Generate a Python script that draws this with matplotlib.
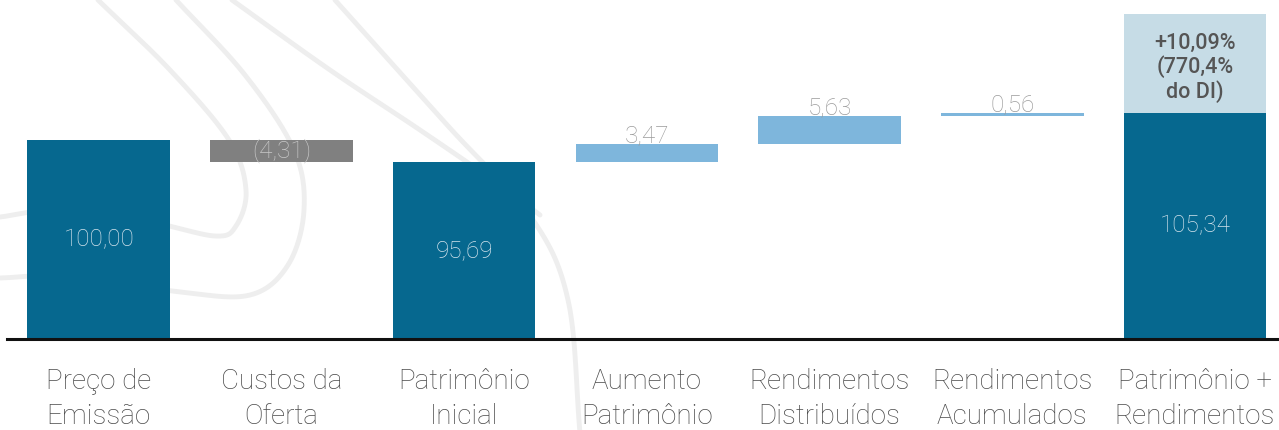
import numpy as np
import matplotlib
matplotlib.use("Agg")
import matplotlib.pyplot as plt
from matplotlib.lines import Line2D
from matplotlib import font_manager

# ---- data ----
categories = ["Preço de\nEmissão", "Custos da\nOferta", "Patrimônio\nInicial",
              "Aumento\nPatrimônio", "Rendimentos\nDistribuídos",
              "Rendimentos\nAcumulados", "Patrimônio +\nRendimentos"]
kinds = ["total", "delta", "total", "delta", "delta", "delta", "total"]
values = [100.00, -4.31, 95.69, 3.47, 5.63, 0.56, 105.34]
value_labels = ["100,00", "(4,31)", "95,69", "3,47", "5,63", "0,56", "105,34"]
return_note = "+10,09%\n(770,4%\ndo DI)"

# ---- style ----
DARK = "#06688F"
GREY_BAR = "#808080"
LIGHT = "#7EB6DC"
BOX = "#C6DCE6"
BAR_W = 0.78
NOTE_BOX_H = 19.5
W_PX, H_PX = 1279, 430

avail = {f.name for f in font_manager.fontManager.ttflist}
family = "Roboto" if "Roboto" in avail else "DejaVu Sans"

fig = plt.figure(figsize=(W_PX / 100, H_PX / 100), dpi=100)
ax = fig.add_axes([0.0052, 0.2116, 0.9948, 0.7884])
ax.set_xlim(-0.504, 6.46)
ax.set_ylim(60.6, 127.7)


def smooth(points, n=30):
    """Catmull-Rom curve through pixel points (origin at top-left)."""
    p = np.array(points, dtype=float)
    p = np.vstack([2 * p[0] - p[1], p, 2 * p[-1] - p[-2]])
    out = []
    for i in range(1, len(p) - 2):
        p0, p1, p2, p3 = p[i - 1], p[i], p[i + 1], p[i + 2]
        t = np.linspace(0, 1, n)[:, None]
        out.append(0.5 * ((2 * p1) + (-p0 + p2) * t
                          + (2 * p0 - 5 * p1 + 4 * p2 - p3) * t ** 2
                          + (-p0 + 3 * p1 - 3 * p2 + p3) * t ** 3))
    c = np.vstack(out)
    return c[:, 0] / W_PX, 1 - c[:, 1] / H_PX


# faint watermark swirl behind the chart
swirl = [
    [(98, 0), (170, 70), (229, 140), (246, 190), (236, 226), (215, 236),
     (150, 222), (60, 210), (0, 217)],
    [(176, 0), (245, 75), (294, 150), (304, 210), (288, 265), (250, 295),
     (180, 292), (70, 276), (0, 278)],
    [(232, 0), (330, 70), (420, 130), (500, 185), (540, 215)],
    [(335, 0), (449, 127), (531, 217), (568, 300), (580, 433)],
]
for pts in swirl:
    xs, ys = smooth(pts)
    ax.add_line(Line2D(xs, ys, transform=fig.transFigure, color="#EEEEEE",
                       lw=3.5, zorder=0, clip_on=False,
                       solid_capstyle="round"))

running = 0.0
for i, (k, v, lab) in enumerate(zip(kinds, values, value_labels)):
    if k == "total":
        base = ax.get_ylim()[0]
        running = v
        ax.bar(i, v - base, bottom=base, width=BAR_W, color=DARK, zorder=2)
        ax.text(i, (base + v) / 2, lab, ha="center", va="center",
                fontsize=17.5, color="#D3E3EC", family=family,
                fontweight="light", zorder=3)
    else:
        start = running
        running = running + v
        lo, hi = min(start, running), max(start, running)
        color = GREY_BAR if v < 0 else LIGHT
        ax.bar(i, hi - lo, bottom=lo, width=BAR_W, color=color, zorder=2)
        if v < 0:
            ax.text(i, (lo + hi) / 2, lab, ha="center", va="center",
                    fontsize=17.5, color="#C9C9C9", family=family,
                    fontweight="light", zorder=3)
        else:
            ax.text(i, hi + 0.35, lab, ha="center", va="baseline",
                    fontsize=17.5, color="#9B9B9B", family=family,
                    fontweight="light", zorder=3)

# return note stacked above the final total
last = len(values) - 1
ax.bar(last, NOTE_BOX_H, bottom=values[last], width=BAR_W, color=BOX, zorder=2)
ax.text(last, values[last] + NOTE_BOX_H / 2 - 0.8, return_note, ha="center",
        va="center", fontsize=15.5, color="#555555", family=family,
        fontweight="medium", linespacing=1.1, zorder=3)

ax.set_xticks(range(len(categories)))
ax.set_xticklabels(categories, fontsize=20, color="#4A4A4A", family=family,
                   fontweight="light", linespacing=1.38)
ax.tick_params(axis="x", length=0, pad=21)
ax.set_yticks([])
for s in ["top", "right", "left"]:
    ax.spines[s].set_visible(False)
ax.spines["bottom"].set_color("#111111")
ax.spines["bottom"].set_linewidth(2.2)
ax.patch.set_alpha(0)

fig.savefig("out.png", dpi=100)
